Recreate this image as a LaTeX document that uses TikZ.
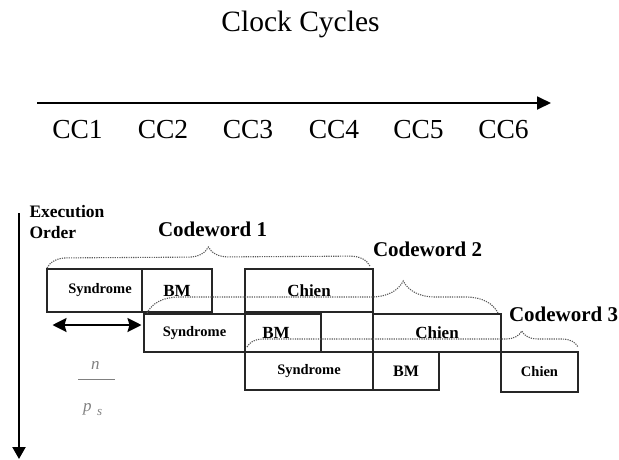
\documentclass[tikz,border=0pt]{standalone}
\usepackage{fontspec}
\setmainfont{Liberation Serif}
\usetikzlibrary{arrows.meta,decorations.pathreplacing}
\begin{document}
\begin{tikzpicture}[x=1pt,y=-1pt,
  box/.style={draw=black!85, line width=1.5pt, inner sep=0pt, outer sep=0pt, anchor=north west,
              font=\bfseries\fontsize{14.5}{16}\selectfont},
  bigtxt/.style={font=\bfseries\fontsize{17}{19}\selectfont},
  brc/.style={draw=black!65, line width=1.1pt, dash pattern=on 1.2pt off 1.1pt, decorate},
  txt/.style={inner sep=0pt, outer sep=0pt, anchor=base west},
  axis/.style={line width=1.8pt, -{Triangle[length=14pt,width=13pt]}},
  cw/.style={txt, font=\bfseries\fontsize{21}{23}\selectfont},
  cc/.style={inner sep=0pt, anchor=base, font=\fontsize{27.5}{30}\selectfont},
  frac/.style={txt, text=black!50, font=\itshape\fontsize{17}{17}\selectfont},
  dblarrow/.style={line width=2.2pt, {Stealth[length=14pt,width=14pt,inset=2pt]}-{Stealth[length=14pt,width=14pt,inset=2pt]}}
]
\useasboundingbox (0,0) rectangle (619,459);

% title and clock axis
\node[inner sep=0pt, anchor=base, font=\fontsize{29.5}{32}\selectfont] (title) at (300.5,31) {Clock Cycles};
\coordinate (hs) at (37,103);
\coordinate (he) at (551,103);
\draw[axis] (hs) -- (he);
\node[cc] (cc1) at (77.5,138) {CC1};
\node[cc] (cc2) at (163,138) {CC2};
\node[cc] (cc3) at (248,138) {CC3};
\node[cc] (cc4) at (334,138) {CC4};
\node[cc] (cc5) at (418.5,138) {CC5};
\node[cc] (cc6) at (503.5,138) {CC6};

% execution order axis
\coordinate (vs) at (19,213);
\coordinate (ve) at (19,459);
\draw[line width=2.2pt, -{Triangle[length=12pt,width=13pt]}] (vs) -- (ve);
\node[txt, font=\bfseries\fontsize{17.5}{19}\selectfont] (exe) at (29.5,217) {Execution};
\node[txt, font=\bfseries\fontsize{17.5}{19}\selectfont] (ord) at (29.5,238.5) {Order};

% row 1
\node[box, minimum width=95pt, minimum height=43pt] (syn1) at (47,269) {\hspace*{11pt}Syndrome};
\node[box, bigtxt, minimum width=70pt, minimum height=43pt] (bm1) at (142,269) {BM};
\node[box, bigtxt, minimum width=128pt, minimum height=43pt] (ch1) at (245,269) {Chien};
% row 2
\node[box, minimum width=101pt, minimum height=38pt] (syn2) at (144,314) {Syndrome};
\node[box, bigtxt, minimum width=76pt, minimum height=38pt] (bm2) at (245,314) {BM\hspace*{14pt}};
\node[box, bigtxt, minimum width=128pt, minimum height=38pt] (ch2) at (373,314) {Chien};
% row 3
\node[box, minimum width=128pt, minimum height=38pt] (syn3) at (245,352) {Syndrome};
\node[box, bigtxt, font=\bfseries\fontsize{16}{18}\selectfont, minimum width=66pt, minimum height=38pt] (bm3) at (373,352) {BM};
\node[box, minimum width=77pt, minimum height=40pt] (ch3) at (501,352) {Chien};

% braces
\coordinate (b1s) at (47,268);
\coordinate (b1e) at (370,266);
\draw[brc, decoration={brace, amplitude=20pt, aspect=0.5}] (b1s) -- (b1e);
\coordinate (b2s) at (147,313);
\coordinate (b2e) at (498,313);
\draw[brc, decoration={brace, amplitude=32pt, aspect=0.73}] (b2s) -- (b2e);
\coordinate (b3s) at (247,347);
\coordinate (b3e) at (578,347);
\draw[brc, decoration={brace, amplitude=16pt, aspect=0.83}] (b3s) -- (b3e);

\node[cw] (cw1) at (158,236) {Codeword 1};
\node[cw] (cw2) at (373,256) {Codeword 2};
\node[cw] (cw3) at (509,321) {Codeword 3};

% n / p_s width marker
\coordinate (da) at (52.5,325);
\coordinate (db) at (141.5,325);
\draw[dblarrow] (da) -- (db);
\node[frac] (nn) at (91,369) {n};
\coordinate (fa) at (78,379);
\coordinate (fb) at (115,379);
\draw[black!50, line width=0.8pt] (fa) -- (fb);
\node[frac] (pp) at (83,411) {p};
\node[frac, font=\itshape\fontsize{13}{13}\selectfont] (ss) at (97,415) {s};
\end{tikzpicture}
\end{document}
